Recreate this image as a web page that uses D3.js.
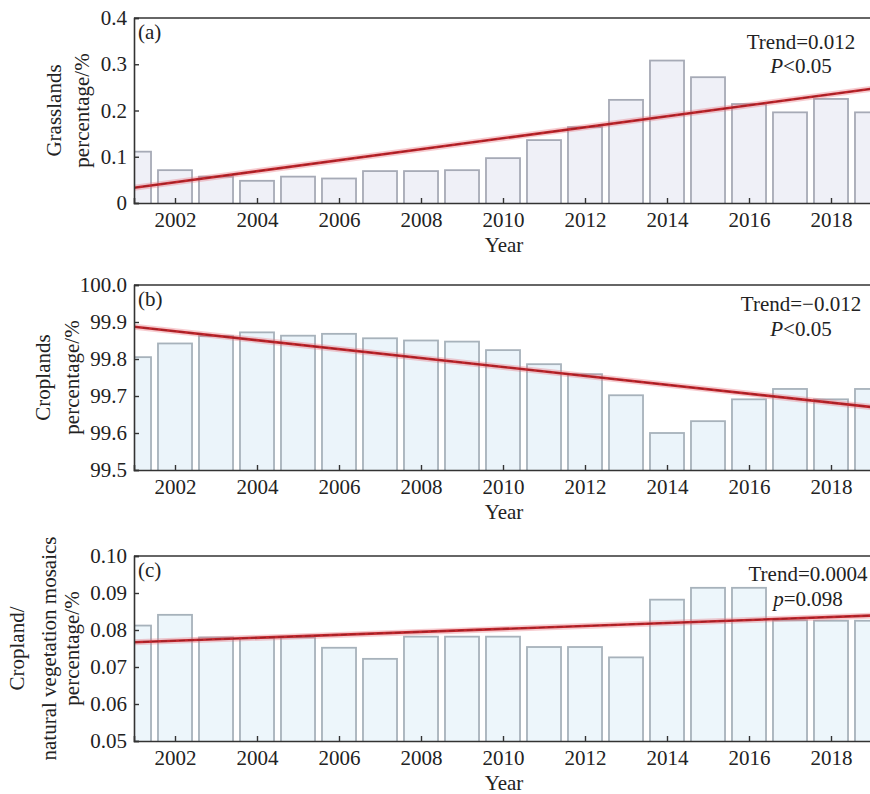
<!DOCTYPE html>
<html>
<head>
<meta charset="utf-8">
<script src="https://cdn.jsdelivr.net/npm/d3@7"></script>
<style>
  body { margin: 0; background: #fff; }
  svg text { font-family: "Liberation Serif", "Times New Roman", serif; fill: #222; }
</style>
</head>
<body>
<div id="chart"></div>
<script>
const years = d3.range(2001, 2020);

// Panel values
const grasslands = [0.111, 0.071, 0.057, 0.048, 0.057, 0.053, 0.069, 0.069, 0.071, 0.097,
  0.136, 0.164, 0.223, 0.308, 0.272, 0.214, 0.196, 0.225, 0.196];
const croplands = [99.805, 99.842, 99.862, 99.872, 99.863, 99.868, 99.856, 99.850, 99.847, 99.824,
  99.786, 99.759, 99.702, 99.600, 99.632, 99.691, 99.719, 99.691, 99.719];
const mosaics = [0.0812, 0.0841, 0.0780, 0.0779, 0.0780, 0.0752, 0.0722, 0.0782, 0.0782, 0.0782,
  0.0754, 0.0754, 0.0726, 0.0882, 0.0914, 0.0914, 0.0826, 0.0825, 0.0825];

// trend line end points [year, value]
const trendA = [[2001, 0.033], [2019, 0.247]];
const trendB = [[2001, 99.887], [2019, 99.670]];
const trendC = [[2001, 0.0767], [2019, 0.0839]];

const yTicksA = [0, 0.1, 0.2, 0.3, 0.4];
const yTicksB = [99.5, 99.6, 99.7, 99.8, 99.9, 100.0];
const yTicksC = [0.05, 0.06, 0.07, 0.08, 0.09, 0.10];
const xTicks = [2002, 2004, 2006, 2008, 2010, 2012, 2014, 2016, 2018];

const panels = [
  { id: "a", label: "(a)", values: grasslands, trend: trendA, domain: [0, 0.4], ticks: yTicksA,
    fmt: d => d === 0 ? "0" : d3.format(".1f")(d),
    top: 18, ylab: ["Grasslands", "percentage/%"], ylabX: [54, 82],
    stat: ["Trend=0.012", "P", "<0.05"], statX: 801, statY: [31, 55],
    fill: "#eff0f7", stroke: "#a6aab6" },
  { id: "b", label: "(b)", values: croplands, trend: trendB, domain: [99.5, 100.0], ticks: yTicksB,
    fmt: d3.format(".1f"),
    top: 285, ylab: ["Croplands", "percentage/%"], ylabX: [43, 72],
    stat: ["Trend=\u22120.012", "P", "<0.05"], statX: 801, statY: [26, 51],
    fill: "#ebf4fa", stroke: "#a7b2bb" },
  { id: "c", label: "(c)", values: mosaics, trend: trendC, domain: [0.05, 0.10], ticks: yTicksC,
    fmt: d3.format(".2f"),
    top: 556, ylab: ["Cropland/", "natural vegetation mosaics", "percentage/%"], ylabX: [17, 49, 72],
    stat: ["Trend=0.0004", "p", "=0.098"], statX: 808, statY: [25, 50],
    fill: "#edf6fb", stroke: "#a7b2bb" }
];

const W = 870, H = 794;
const left = 134, right = 872, ph = 185;
const fs = 21;

const svg = d3.select("#chart").append("svg")
  .attr("width", W).attr("height", H);

const x = d3.scaleLinear().domain([2001, 2019]).range([left, right]);
const bw = (x(2002) - x(2001)) * 0.83;

panels.forEach(p => {
  const y = d3.scaleLinear().domain(p.domain).range([p.top + ph, p.top]);
  const g = svg.append("g");

  svg.append("clipPath").attr("id", "clip-" + p.id)
    .append("rect").attr("x", left).attr("y", p.top).attr("width", right - left).attr("height", ph);

  const plot = g.append("g").attr("clip-path", `url(#clip-${p.id})`);

  plot.selectAll("rect.bar")
    .data(years.map((yr, i) => ({ yr, v: p.values[i] })))
    .enter().append("rect")
    .attr("class", "bar")
    .attr("x", d => x(d.yr) - bw / 2)
    .attr("y", d => y(d.v))
    .attr("width", bw)
    .attr("height", d => p.top + ph - y(d.v) + 2)
    .attr("fill", p.fill)
    .attr("stroke", p.stroke)
    .attr("stroke-width", 1.8);

  const line = d3.line().x(d => x(d[0])).y(d => y(d[1]));
  plot.append("path").datum(p.trend).attr("d", line)
    .attr("fill", "none").attr("stroke", "rgba(230,110,120,0.35)").attr("stroke-width", 6);
  plot.append("path").datum(p.trend).attr("d", line)
    .attr("fill", "none").attr("stroke", "#c1272d").attr("stroke-width", 2.6);
  plot.append("path").datum(p.trend).attr("d", line)
    .attr("fill", "none").attr("stroke", "#8e1a20").attr("stroke-width", 0.8)
    .attr("stroke-dasharray", "6,3");

  // axes
  const xAxis = d3.axisBottom(x).tickValues(xTicks).tickSize(-5).tickFormat(d3.format("d")).tickPadding(9);
  const gx = g.append("g").attr("transform", `translate(0,${p.top + ph})`).call(xAxis);
  gx.select(".domain").attr("stroke", "#333").attr("stroke-width", 1.6);
  gx.selectAll(".tick line").attr("stroke", "#333").attr("stroke-width", 1.4);
  gx.selectAll("text").attr("font-size", fs).attr("fill", "#222").attr("dy", "0.70em");

  const yAxis = d3.axisLeft(y).tickValues(p.ticks).tickSize(-5).tickFormat(p.fmt).tickPadding(7);
  const gy = g.append("g").attr("transform", `translate(${left},0)`).call(yAxis);
  gy.select(".domain").attr("stroke", "#333").attr("stroke-width", 1.6);
  gy.selectAll(".tick line").attr("stroke", "#333").attr("stroke-width", 1.4);
  gy.selectAll("text").attr("font-size", fs).attr("fill", "#222");

  // top frame line
  g.append("line").attr("x1", left).attr("x2", right).attr("y1", p.top).attr("y2", p.top)
    .attr("stroke", "#333").attr("stroke-width", 1.6);

  g.append("text").attr("x", 504).attr("y", p.top + ph + 49)
    .attr("text-anchor", "middle").attr("font-size", fs).text("Year");

  g.append("text").attr("x", 138).attr("y", p.top + 21)
    .attr("font-size", fs).text(p.label);

  g.append("text").attr("x", p.statX).attr("y", p.top + p.statY[0])
    .attr("text-anchor", "middle").attr("font-size", fs).text(p.stat[0]);
  const st = g.append("text").attr("x", p.statX).attr("y", p.top + p.statY[1])
    .attr("text-anchor", "middle").attr("font-size", fs);
  st.append("tspan").attr("font-style", "italic").text(p.stat[1]);
  st.append("tspan").text(p.stat[2]);

  const cy = p.top + ph / 2;
  p.ylab.forEach((t, i) => {
    g.append("text")
      .attr("transform", `translate(${p.ylabX[i]},${cy}) rotate(-90)`)
      .attr("text-anchor", "middle").attr("dominant-baseline", "central")
      .attr("font-size", fs).text(t);
  });
});
</script>
</body>
</html>
